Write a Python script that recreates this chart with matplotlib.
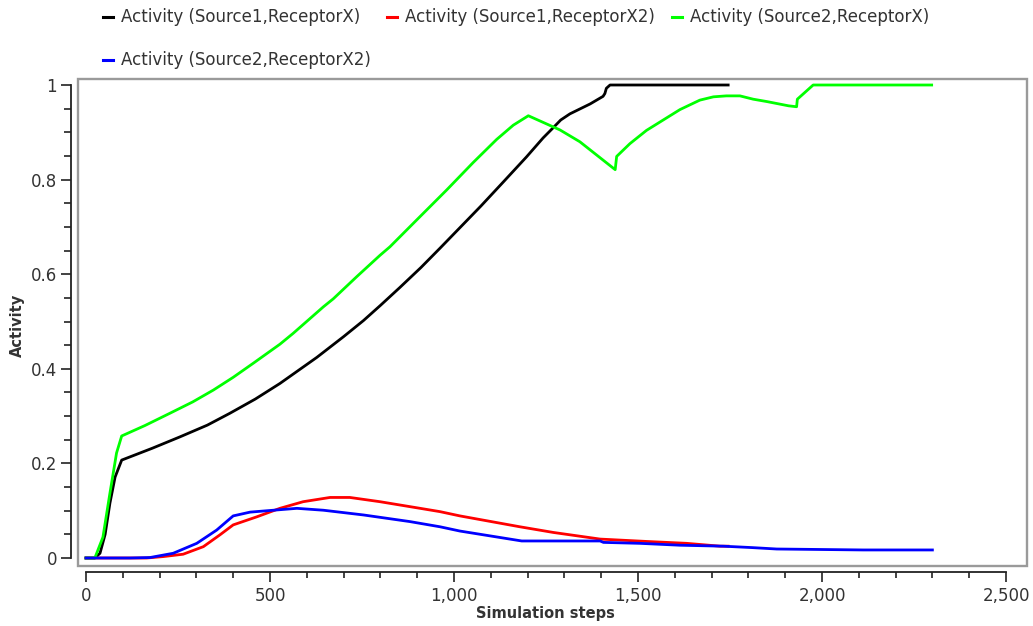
import matplotlib
matplotlib.use("Agg")
import matplotlib.pyplot as plt
from matplotlib.ticker import MultipleLocator, FuncFormatter
from matplotlib.patches import Rectangle
from matplotlib.lines import Line2D

plt.rcParams['font.family'] = ['DejaVu Sans']

# ---- data ----
labels = ["Activity (Source1,ReceptorX)", "Activity (Source1,ReceptorX2)",
          "Activity (Source2,ReceptorX)", "Activity (Source2,ReceptorX2)"]
colors = ["#000000", "#ff0000", "#00ff00", "#0000ff"]

s1x_x = [0, 24, 38, 52, 65, 79, 97, 180, 255, 330, 391, 460, 527, 627, 700,
         754, 800, 853, 910, 962, 1073, 1134, 1197, 1242, 1270, 1290, 1315,
         1370, 1405, 1410, 1414, 1424, 1745]
s1x_y = [0, 0, 0.01, 0.05, 0.116, 0.171, 0.207, 0.232, 0.256, 0.281, 0.306,
         0.336, 0.369, 0.424, 0.468, 0.502, 0.534, 0.572, 0.614, 0.655, 0.744,
         0.795, 0.848, 0.888, 0.910, 0.926, 0.939, 0.960, 0.976, 0.982, 0.993,
         1.0, 1.0]

s1x2_x = [0, 165, 210, 264, 319, 364, 400, 464, 527, 590, 663, 717, 799, 908,
          962, 1016, 1179, 1270, 1397, 1523, 1632, 1723, 1745]
s1x2_y = [0, 0, 0.003, 0.008, 0.024, 0.049, 0.070, 0.087, 0.105, 0.119, 0.128,
          0.128, 0.119, 0.105, 0.098, 0.089, 0.066, 0.054, 0.040, 0.035, 0.031,
          0.025, 0.025]

s2x_x = [0, 24, 46, 65, 83, 97, 160, 228, 290, 346, 400, 455, 527, 563, 645,
         672, 736, 799, 826, 908, 980, 1052, 1116, 1161, 1202, 1288, 1342,
         1438, 1442, 1478, 1523, 1614, 1668, 1705, 1740, 1777, 1813, 1850,
         1909, 1931, 1933, 1976, 2298]
s2x_y = [0, 0, 0.044, 0.137, 0.222, 0.258, 0.280, 0.306, 0.330, 0.355, 0.382,
         0.412, 0.452, 0.475, 0.531, 0.548, 0.595, 0.640, 0.658, 0.722, 0.778,
         0.836, 0.885, 0.915, 0.935, 0.905, 0.880, 0.821, 0.849, 0.876, 0.904,
         0.948, 0.968, 0.975, 0.977, 0.977, 0.970, 0.965, 0.956, 0.954, 0.970,
         1.0, 1.0]

s2x2_x = [0, 120, 174, 237, 301, 355, 400, 446, 509, 573, 645, 754, 880, 962,
          1016, 1184, 1397, 1406, 1505, 1614, 1731, 1810, 1877, 2112, 2300]
s2x2_y = [0, 0, 0.001, 0.010, 0.031, 0.059, 0.089, 0.097, 0.101, 0.105, 0.101,
          0.091, 0.077, 0.066, 0.057, 0.036, 0.036, 0.033, 0.031, 0.027, 0.025,
          0.022, 0.019, 0.017, 0.017]

series = [(s1x_x, s1x_y), (s1x2_x, s1x2_y), (s2x_x, s2x_y), (s2x2_x, s2x2_y)]

# ---- figure ----
W, H = 1033, 626
fig = plt.figure(figsize=(W / 100, H / 100), dpi=100)
L, R, T, B = 78, 1027, 79, 566
ax = fig.add_axes([L / W, 1 - B / H, (R - L) / W, (B - T) / H])

px_x = 920 / 2500.0
px_y = 473.0
ax.set_xlim((L - 86) / px_x, (R - 86) / px_x)
ax.set_ylim((558 - B) / px_y, (558 - T) / px_y)

for (xs, ys), c in zip(series, colors):
    ax.plot(xs, ys, color=c, lw=2.0)

# gray plot-area frame
ax.add_patch(Rectangle((0, 0), 1, 1, transform=ax.transAxes, fill=False,
                       edgecolor="#9a9a9a", lw=1.7, clip_on=False, zorder=5))
ax.spines['top'].set_visible(False)
ax.spines['right'].set_visible(False)
for sp in ['left', 'bottom']:
    ax.spines[sp].set_color('#222222')
    ax.spines[sp].set_linewidth(1.3)
ax.spines['left'].set_position(('outward', 5))
ax.spines['bottom'].set_position(('outward', 4))
ax.spines['left'].set_bounds(0, 1)
ax.spines['bottom'].set_bounds(0, 2500)

ax.xaxis.set_major_locator(MultipleLocator(500))
ax.xaxis.set_minor_locator(MultipleLocator(100))
ax.yaxis.set_major_locator(MultipleLocator(0.2))
ax.yaxis.set_minor_locator(MultipleLocator(0.05))
ax.xaxis.set_major_formatter(FuncFormatter(lambda v, p: f"{int(round(v)):,}"))
ax.yaxis.set_major_formatter(FuncFormatter(lambda v, p: f"{v:g}"))
ax.tick_params(axis='both', which='major', length=7, width=1.2, colors='#222222',
               labelcolor='#333333', labelsize=12)
ax.tick_params(axis='x', which='minor', length=4, width=1.2, colors='#222222')
ax.tick_params(axis='y', which='minor', length=5, width=1.2, colors='#222222')
ax.tick_params(axis='x', which='major', pad=4)
ax.tick_params(axis='y', which='major', pad=3)

ax.set_xlabel("Simulation steps", fontsize=10.5, fontweight='bold', color='#333333')
ax.set_ylabel("Activity", fontsize=10.5, fontweight='bold', color='#333333')
ax.xaxis.set_label_coords((545 - L) / (R - L), -(606 - B) / (B - T))
ax.yaxis.set_label_coords(-(L - 25) / (R - L), (B - 325) / (B - T))

# ---- legend (manual, top) ----
leg_pos = [(103, 17), (387, 17), (672, 17), (103, 60)]
for (lx, ly), lab, c in zip(leg_pos, labels, colors):
    fig.add_artist(Line2D([lx / W, (lx + 10) / W], [1 - ly / H, 1 - ly / H],
                          color=c, lw=2.2, transform=fig.transFigure))
    fig.text((lx + 18) / W, 1 - ly / H, lab, fontsize=12, color='#333333',
             va='center', ha='left')

fig.savefig("out.png", dpi=100, facecolor='white')
